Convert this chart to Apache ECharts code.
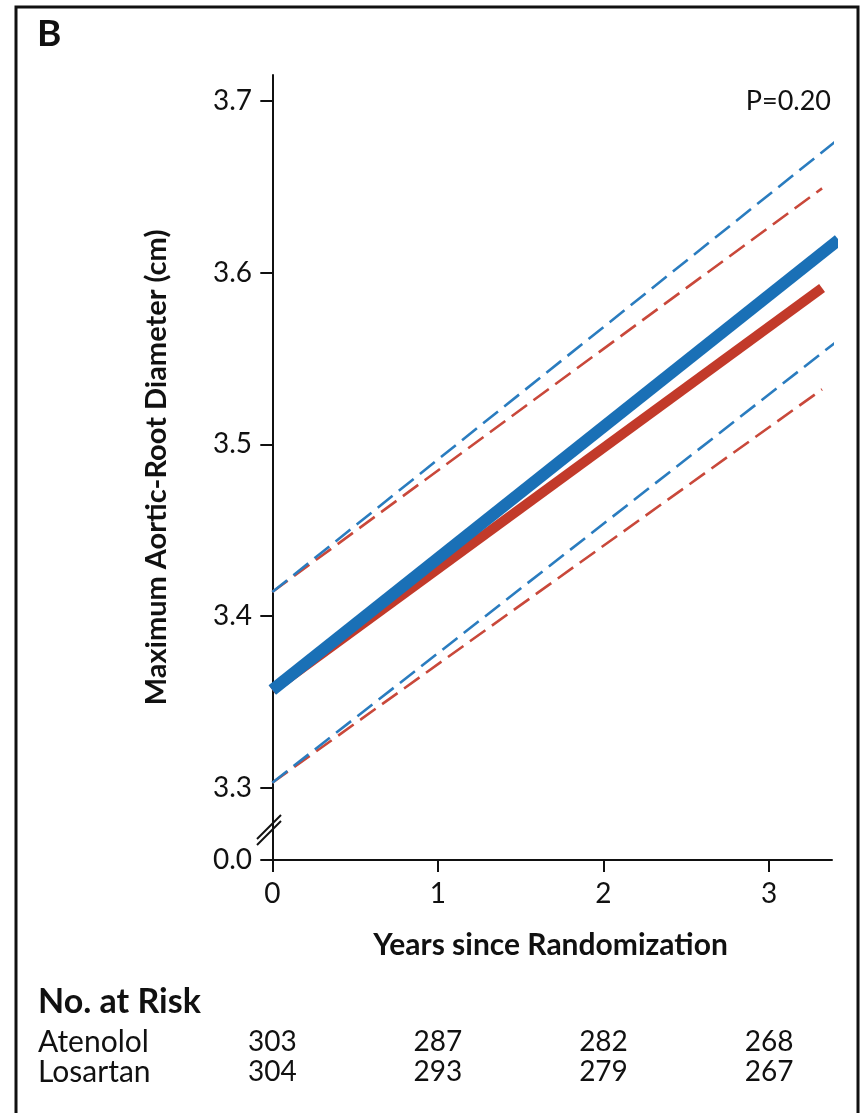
<!DOCTYPE html>
<html>
<head>
<meta charset="utf-8">
<script src="https://cdn.jsdelivr.net/npm/echarts@6.0.0/dist/echarts.min.js"></script>
<style>
  html, body { margin: 0; padding: 0; background: #fff; }
  #chart { width: 867px; height: 1113px; }
</style>
</head>
<body>
<div id="chart"></div>
<script>
// fitted lines, [years, cm]
const blueMean  = [[0, 3.357], [3.42, 3.619]];
const blueUpper = [[0, 3.414], [3.41, 3.677]];
const blueLower = [[0, 3.303], [3.41, 3.560]];
const redMean   = [[0, 3.357], [3.32, 3.591]];
const redUpper  = [[0, 3.414], [3.32, 3.649]];
const redLower  = [[0, 3.303], [3.32, 3.532]];

const yBreakValue = 3.258;            // where the "0.0" sits below the break
const yTicks = [yBreakValue, 3.3, 3.4, 3.5, 3.6, 3.7];
const xTicks = [0, 1, 2, 3];

const riskGroups = ['Atenolol', 'Losartan'];
const riskAtenolol = [303, 287, 282, 268];
const riskLosartan = [304, 293, 279, 267];
const pText = 'P=0.20';

const FONT = 'Lato';
const BLUE = '#1a70b6';
const RED = '#c23a2a';
const BLUE_D = '#2a7cbf';
const RED_D = '#c9483a';

var chart = echarts.init(document.getElementById('chart'));

function dashed(name, data, color) {
  return {
    name: name, type: 'line', data: data, symbol: 'none', clip: false,
    lineStyle: { color: color, width: 2.6, type: [19, 8] }, z: 2
  };
}
function solid(name, data, color, w) {
  return {
    name: name, type: 'line', data: data, symbol: 'none', clip: false,
    lineStyle: { color: color, width: w, cap: 'butt' }, z: 3
  };
}

var option = {
  animation: false,
  grid: { left: 269, right: 35, top: 75, bottom: 253 },
  xAxis: {
    type: 'value', min: -0.02, max: 3.38,
    name: 'Years since Randomization', nameLocation: 'middle', nameGap: 70,
    nameTextStyle: { fontFamily: FONT, fontWeight: 'bold', fontSize: 30, color: '#111' },
    axisLine: { onZero: false, lineStyle: { color: '#111', width: 2 } },
    axisTick: { customValues: xTicks, length: 12, lineStyle: { color: '#111', width: 2 } },
    axisLabel: { customValues: xTicks, fontFamily: FONT, fontSize: 28, color: '#111', margin: 20 },
    splitLine: { show: false }
  },
  yAxis: {
    type: 'value', min: yBreakValue, max: 3.715,
    name: 'Maximum Aortic-Root Diameter (cm)', nameLocation: 'middle', nameGap: 98,
    nameTextStyle: { fontFamily: FONT, fontWeight: 'bold', fontSize: 29, color: '#111' },
    axisLine: { show: true, lineStyle: { color: '#111', width: 2 } },
    axisTick: { customValues: yTicks, length: 12, lineStyle: { color: '#111', width: 2 } },
    axisLabel: {
      customValues: yTicks, fontFamily: FONT, fontSize: 28, color: '#111', margin: 17,
      formatter: function (v) { return v < 3.29 ? '0.0' : v.toFixed(1); }
    },
    splitLine: { show: false }
  },
  series: [
    dashed('Red upper', redUpper, RED_D),
    dashed('Red lower', redLower, RED_D),
    dashed('Blue upper', blueUpper, BLUE_D),
    dashed('Blue lower', blueLower, BLUE_D),
    solid('Red', redMean, RED, 10),
    solid('Blue', blueMean, BLUE, 12)
  ]
};
chart.setOption(option);

// annotations placed through the axes
var g = [];
g.push({ type: 'rect', shape: { x: 16, y: 7, width: 842, height: 1130 },
  style: { fill: null, stroke: '#111', lineWidth: 3 }, silent: true });
g.push({ type: 'text', left: 37, top: 16,
  style: { text: 'B', font: 'bold 37px ' + FONT, fill: '#111' } });
g.push({ type: 'text', right: 36, top: 88,
  style: { text: pText, font: '27px ' + FONT, fill: '#111' } });

// axis break marks
var bp = chart.convertToPixel({ gridIndex: 0 }, [-0.02, 3.276]);
[-3, 3].forEach(function (d) {
  g.push({ type: 'line', silent: true,
    shape: { x1: bp[0] - 12, y1: bp[1] + 13 + d, x2: bp[0] + 12, y2: bp[1] - 11 + d },
    style: { stroke: '#111', lineWidth: 2 } });
});

// no. at risk table
g.push({ type: 'text', left: 38, top: 985,
  style: { text: 'No. at Risk', font: 'bold 34px ' + FONT, fill: '#111' } });
var rows = [riskAtenolol, riskLosartan];
var rowY = [1042, 1072];
riskGroups.forEach(function (name, i) {
  g.push({ type: 'text', x: 38, y: rowY[i],
    style: { text: name, font: '30px ' + FONT, fill: '#111', verticalAlign: 'middle' } });
  rows[i].forEach(function (n, j) {
    var px = chart.convertToPixel({ gridIndex: 0 }, [xTicks[j], 3.5])[0];
    g.push({ type: 'text', x: px, y: rowY[i],
      style: { text: String(n), font: '28px ' + FONT, fill: '#111', align: 'center', verticalAlign: 'middle' } });
  });
});
chart.setOption({ graphic: g });
</script>
</body>
</html>
